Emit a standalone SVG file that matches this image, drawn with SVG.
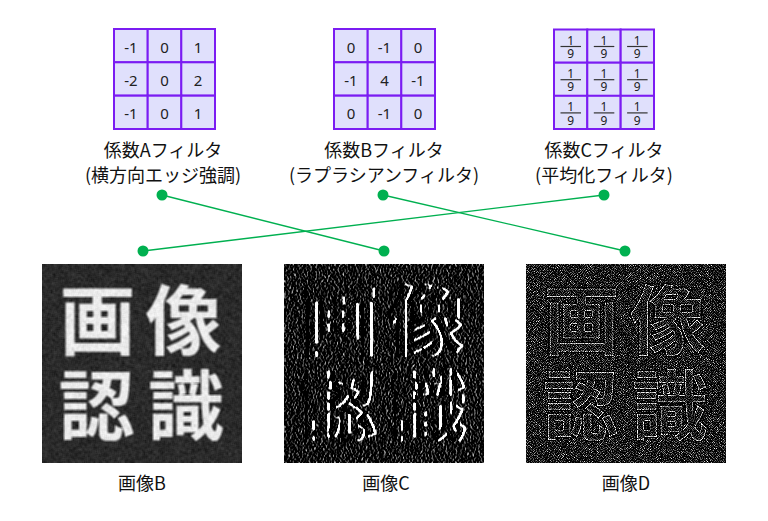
<svg xmlns="http://www.w3.org/2000/svg" width="768" height="521" viewBox="0 0 768 521">
<style>
.cell{fill:#e0e0fc;stroke:#7b1cf2;stroke-width:2}
.num{font-family:"Noto Sans","Liberation Sans",sans-serif;font-size:15px;fill:#222;text-anchor:middle}
.fr{font-family:"Noto Sans","Liberation Sans",sans-serif;font-size:12px;fill:#222;text-anchor:middle}
.frl{stroke:#333;stroke-width:1.2}
.lbl{font-family:"Noto Sans CJK JP","Noto Sans",sans-serif;font-size:18px;fill:#111;text-anchor:middle}
.big{font-family:"Noto Sans CJK JP",sans-serif;font-size:76px;font-weight:700;fill:#ececec}
.r1{letter-spacing:10px}
.r2{letter-spacing:13.5px}
.con{stroke:#00b050;stroke-width:1.3;fill:none}
.dot{fill:#00b050}
</style>
<defs>
<filter id="fB" filterUnits="userSpaceOnUse" x="0" y="0" width="200" height="199" color-interpolation-filters="sRGB">
<feFlood flood-color="#2a2a2a" result="base"/>
<feComposite in="SourceGraphic" in2="base" operator="over" result="img0"/>
<feTurbulence type="fractalNoise" baseFrequency="1.3" numOctaves="2" seed="4" result="t"/>
<feColorMatrix in="t" type="matrix" values="0.6 0 0 0 0  0.6 0 0 0 0  0.6 0 0 0 0  0 0 0 0 1" result="n"/>
<feComposite in="img0" in2="n" operator="arithmetic" k1="0" k2="1" k3="1" k4="-0.3" result="img"/>
<feConvolveMatrix in="img" order="3" kernelMatrix="1 1 1 1 1 1 1 1 1" divisor="9" preserveAlpha="true"/>
</filter>
<filter id="fC" filterUnits="userSpaceOnUse" x="0" y="0" width="200" height="199" color-interpolation-filters="sRGB">
<feFlood flood-color="#2a2a2a" result="base"/>
<feComposite in="SourceGraphic" in2="base" operator="over" result="img0"/>
<feTurbulence type="fractalNoise" baseFrequency="1.3" numOctaves="2" seed="4" result="t"/>
<feColorMatrix in="t" type="matrix" values="0.6 0 0 0 0  0.6 0 0 0 0  0.6 0 0 0 0  0 0 0 0 1" result="n"/>
<feComposite in="img0" in2="n" operator="arithmetic" k1="0" k2="1" k3="1" k4="-0.3" result="img"/>
<feConvolveMatrix in="img" order="3" kernelMatrix="-1 0 1 -2 0 2 -1 0 1" divisor="1" preserveAlpha="true"/>
</filter>
<filter id="fD" filterUnits="userSpaceOnUse" x="0" y="0" width="200" height="199" color-interpolation-filters="sRGB">
<feFlood flood-color="#262626" result="base"/>
<feComposite in="SourceGraphic" in2="base" operator="over" result="img0"/>
<feTurbulence type="fractalNoise" baseFrequency="1.3" numOctaves="2" seed="9" result="t"/>
<feColorMatrix in="t" type="matrix" values="0.65 0 0 0 0  0.65 0 0 0 0  0.65 0 0 0 0  0 0 0 0 1" result="n"/>
<feComposite in="img0" in2="n" operator="arithmetic" k1="0" k2="1" k3="1" k4="-0.325" result="img"/>
<feConvolveMatrix in="img" order="3" kernelMatrix="0 -1 0 -1 4 -1 0 -1 0" divisor="1" preserveAlpha="true"/>
</filter>
</defs>
<rect width="768" height="521" fill="#fff"/>

<g id="filterA">
<rect class="cell" x="114" y="29" width="33.7" height="33.3"/><rect class="cell" x="147.7" y="29" width="33.7" height="33.3"/><rect class="cell" x="181.3" y="29" width="33.7" height="33.3"/>
<rect class="cell" x="114" y="62.3" width="33.7" height="33.3"/><rect class="cell" x="147.7" y="62.3" width="33.7" height="33.3"/><rect class="cell" x="181.3" y="62.3" width="33.7" height="33.3"/>
<rect class="cell" x="114" y="95.7" width="33.7" height="33.3"/><rect class="cell" x="147.7" y="95.7" width="33.7" height="33.3"/><rect class="cell" x="181.3" y="95.7" width="33.7" height="33.3"/>
<text class="num" x="131" y="53">-1</text><text class="num" x="164.5" y="53">0</text><text class="num" x="198" y="53">1</text>
<text class="num" x="131" y="86">-2</text><text class="num" x="164.5" y="86">0</text><text class="num" x="198" y="86">2</text>
<text class="num" x="131" y="119">-1</text><text class="num" x="164.5" y="119">0</text><text class="num" x="198" y="119">1</text>
<text class="lbl" x="163" y="157">係数Aフィルタ</text>
<text class="lbl" x="163" y="182">(横方向エッジ強調)</text>
</g>

<g id="filterB">
<rect class="cell" x="334" y="29" width="33.7" height="33.3"/><rect class="cell" x="367.7" y="29" width="33.7" height="33.3"/><rect class="cell" x="401.3" y="29" width="33.7" height="33.3"/>
<rect class="cell" x="334" y="62.3" width="33.7" height="33.3"/><rect class="cell" x="367.7" y="62.3" width="33.7" height="33.3"/><rect class="cell" x="401.3" y="62.3" width="33.7" height="33.3"/>
<rect class="cell" x="334" y="95.7" width="33.7" height="33.3"/><rect class="cell" x="367.7" y="95.7" width="33.7" height="33.3"/><rect class="cell" x="401.3" y="95.7" width="33.7" height="33.3"/>
<text class="num" x="351" y="53">0</text><text class="num" x="384.5" y="53">-1</text><text class="num" x="418" y="53">0</text>
<text class="num" x="351" y="86">-1</text><text class="num" x="384.5" y="86">4</text><text class="num" x="418" y="86">-1</text>
<text class="num" x="351" y="119">0</text><text class="num" x="384.5" y="119">-1</text><text class="num" x="418" y="119">0</text>
<text class="lbl" x="384" y="157">係数Bフィルタ</text>
<text class="lbl" x="384" y="182">(ラプラシアンフィルタ)</text>
</g>

<g id="filterC">
<rect class="cell" x="554" y="29.5" width="33.3" height="33.2"/><rect class="cell" x="587.3" y="29.5" width="33.3" height="33.2"/><rect class="cell" x="620.7" y="29.5" width="33.3" height="33.2"/>
<rect class="cell" x="554" y="62.7" width="33.3" height="33.2"/><rect class="cell" x="587.3" y="62.7" width="33.3" height="33.2"/><rect class="cell" x="620.7" y="62.7" width="33.3" height="33.2"/>
<rect class="cell" x="554" y="95.8" width="33.3" height="33.2"/><rect class="cell" x="587.3" y="95.8" width="33.3" height="33.2"/><rect class="cell" x="620.7" y="95.8" width="33.3" height="33.2"/>
<g>
<text class="fr" x="570.7" y="44.7">1</text><line class="frl" x1="560.5" y1="46.5" x2="581" y2="46.5"/><text class="fr" x="570.7" y="58.3">9</text>
<text class="fr" x="604" y="44.7">1</text><line class="frl" x1="593.8" y1="46.5" x2="614.3" y2="46.5"/><text class="fr" x="604" y="58.3">9</text>
<text class="fr" x="637.3" y="44.7">1</text><line class="frl" x1="627.1" y1="46.5" x2="647.6" y2="46.5"/><text class="fr" x="637.3" y="58.3">9</text>
</g>
<g transform="translate(0,33.2)">
<text class="fr" x="570.7" y="44.7">1</text><line class="frl" x1="560.5" y1="46.5" x2="581" y2="46.5"/><text class="fr" x="570.7" y="58.3">9</text>
<text class="fr" x="604" y="44.7">1</text><line class="frl" x1="593.8" y1="46.5" x2="614.3" y2="46.5"/><text class="fr" x="604" y="58.3">9</text>
<text class="fr" x="637.3" y="44.7">1</text><line class="frl" x1="627.1" y1="46.5" x2="647.6" y2="46.5"/><text class="fr" x="637.3" y="58.3">9</text>
</g>
<g transform="translate(0,66.4)">
<text class="fr" x="570.7" y="44.7">1</text><line class="frl" x1="560.5" y1="46.5" x2="581" y2="46.5"/><text class="fr" x="570.7" y="58.3">9</text>
<text class="fr" x="604" y="44.7">1</text><line class="frl" x1="593.8" y1="46.5" x2="614.3" y2="46.5"/><text class="fr" x="604" y="58.3">9</text>
<text class="fr" x="637.3" y="44.7">1</text><line class="frl" x1="627.1" y1="46.5" x2="647.6" y2="46.5"/><text class="fr" x="637.3" y="58.3">9</text>
</g>
<text class="lbl" x="604" y="157">係数Cフィルタ</text>
<text class="lbl" x="604" y="182">(平均化フィルタ)</text>
</g>

<g id="imageB">
<g transform="translate(42,264)">
<g filter="url(#fB)">
<text class="big r1" x="17.5" y="84.5">画像</text>
<text class="big r2" x="16.5" y="170">認識</text>
</g>
</g>
<text class="lbl" x="142" y="490">画像B</text>
</g>

<g id="imageC">
<g transform="translate(284,264)">
<g filter="url(#fC)">
<text class="big r1" x="17.5" y="84.5">画像</text>
<text class="big r2" x="16.5" y="170">認識</text>
</g>
</g>
<text class="lbl" x="386" y="490">画像C</text>
</g>

<g id="imageD">
<g transform="translate(526,264)">
<g filter="url(#fD)">
<text class="big r1" x="17.5" y="84.5">画像</text>
<text class="big r2" x="16.5" y="170">認識</text>
</g>
</g>
<text class="lbl" x="626" y="490">画像D</text>
</g>

<g id="connectors">
<line class="con" x1="162" y1="195" x2="384" y2="251"/>
<line class="con" x1="383" y1="195" x2="625" y2="251"/>
<line class="con" x1="604" y1="195" x2="143" y2="251"/>
<circle class="dot" cx="162" cy="195" r="5.5"/>
<circle class="dot" cx="383" cy="195" r="5.5"/>
<circle class="dot" cx="604" cy="195" r="5.5"/>
<circle class="dot" cx="143" cy="251" r="5.5"/>
<circle class="dot" cx="384" cy="251" r="5.5"/>
<circle class="dot" cx="625" cy="251" r="5.5"/>
</g>
</svg>
